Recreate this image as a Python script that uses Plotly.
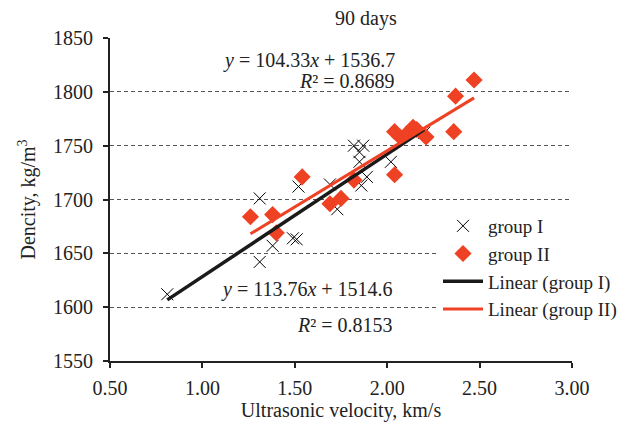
import plotly.graph_objects as go

# ---- data ----
g1_x = [0.81, 1.31, 1.31, 1.38, 1.49, 1.51, 1.52, 1.69, 1.73, 1.82, 1.87, 1.85, 1.85, 1.89, 1.86, 2.02, 2.20]
g1_y = [1612, 1701, 1642, 1657, 1664, 1663, 1712, 1714, 1691, 1750, 1750, 1744, 1735, 1721, 1713, 1735, 1762]

g2_x = [1.26, 1.38, 1.40, 1.54, 1.69, 1.75, 1.82, 2.04, 2.04, 2.07, 2.10, 2.14, 2.16, 2.21, 2.36, 2.37, 2.47]
g2_y = [1684, 1686, 1669, 1721, 1696, 1701, 1718, 1723, 1763, 1758, 1760, 1767, 1765, 1758, 1763, 1796, 1811]

fit1 = (113.76, 1514.6)   # slope, intercept group I
fit2 = (104.33, 1536.7)   # slope, intercept group II
r2_1 = 0.8153
r2_2 = 0.8689

x_ticks = [0.5, 1.0, 1.5, 2.0, 2.5, 3.0]
y_ticks = [1550, 1600, 1650, 1700, 1750, 1800, 1850]

RED = "#EF4123"
INK = "#222222"
FONT = "Liberation Serif"

W, H = 618, 422
ML, MR, MT, MB = 110, 46, 38, 61
pw, ph = W - ML - MR, H - MT - MB


def px2paper(px, py):
    return (px - ML) / pw, 1 - (py - MT) / ph


fig = go.Figure()
fig.add_trace(go.Scatter(x=g1_x, y=g1_y, mode="markers", name="group I", legendgroup="a",
                         marker=dict(symbol="x-thin-open", size=12, color="black",
                                     line=dict(color="black", width=1))))
fig.add_trace(go.Scatter(x=g2_x, y=g2_y, mode="markers", name="group II", legendgroup="b",
                         marker=dict(symbol="diamond", size=11, color=RED,
                                     line=dict(color=RED, width=2))))

l1x = [min(g1_x), max(g1_x)]
l2x = [min(g2_x), max(g2_x)]
fig.add_trace(go.Scatter(x=l1x, y=[fit1[0] * v + fit1[1] for v in l1x], mode="lines",
                         name="Linear (group I)", legendgroup="c",
                         line=dict(color="#1a1a1a", width=3.5)))
fig.add_trace(go.Scatter(x=l2x, y=[fit2[0] * v + fit2[1] for v in l2x], mode="lines",
                         name="Linear (group II)", legendgroup="d",
                         line=dict(color=RED, width=3)))

ann_font = dict(family=FONT, size=20, color=INK)
annots = [
    (f"<i>y</i> = {fit2[0]:.2f}<i>x</i> + {fit2[1]:.1f}", 397, 60),
    (f"<i>R</i>² = {r2_2:.4f}", 397, 81),
    (f"<i>y</i> = {fit1[0]:.2f}<i>x</i> + {fit1[1]:.1f}", 395, 289),
    (f"<i>R</i>² = {r2_1:.4f}", 395, 325),
]
for txt, px, py in annots:
    ax, ay = px2paper(px, py)
    fig.add_annotation(x=ax, y=ay, xref="paper", yref="paper",
                       xanchor="right", yanchor="middle", showarrow=False,
                       text=txt, font=ann_font)

tx, ty = px2paper(366, 19)
fig.add_annotation(x=tx, y=ty, xref="paper", yref="paper", yanchor="middle",
                   showarrow=False, text="90 days", font=ann_font)

lx, ly = px2paper(438, 207)
fig.update_layout(
    width=W, height=H,
    margin=dict(l=ML, r=MR, t=MT, b=MB, autoexpand=False),
    paper_bgcolor="white", plot_bgcolor="white",
    font=dict(family=FONT, size=20, color=INK),
    showlegend=True,
    legend=dict(x=lx, y=ly, xanchor="left", yanchor="top",
                bgcolor="white", font=dict(family=FONT, size=19, color=INK),
                itemwidth=40, tracegroupgap=10, traceorder="normal"),
    xaxis=dict(range=[0.5, 3.0], tickvals=x_ticks, ticktext=[f"{v:.2f}" for v in x_ticks],
               showgrid=False, zeroline=False, showline=True, linecolor=INK, linewidth=2,
               ticks="outside", ticklen=5, tickcolor=INK, tickwidth=1.5,
               ticklabelstandoff=3,
               title=dict(text="Ultrasonic velocity, km/s", standoff=10,
                          font=dict(family=FONT, size=20, color=INK))),
    yaxis=dict(range=[1550, 1850], tickvals=y_ticks,
               showgrid=True, gridcolor="#555555", griddash="4px,3px", gridwidth=1,
               zeroline=False, showline=True, linecolor=INK, linewidth=2,
               ticks="outside", ticklen=5, tickcolor=INK, tickwidth=1.5,
               ticklabelstandoff=6,
               title=dict(text="Dencity, kg/m<sup>3</sup>", standoff=12,
                          font=dict(family=FONT, size=20, color=INK))),
)

fig.write_html("out.html")
